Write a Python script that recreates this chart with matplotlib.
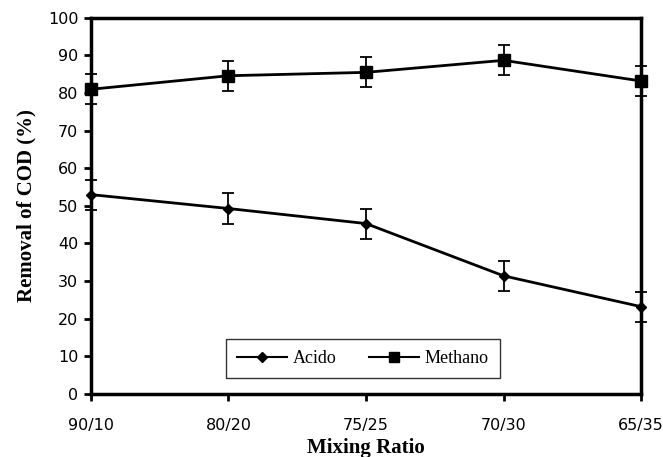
#!/usr/bin/env python3
"""COD removal vs mixing ratio for acido and methano reactors."""

import matplotlib
matplotlib.use('Agg')
import matplotlib.pyplot as plt
from matplotlib.lines import Line2D
import numpy as np

ratios = ['90/10', '80/20', '75/25', '70/30', '65/35']
acido = [53.0, 49.3, 45.3, 31.4, 23.2]
acido_err = [4.0, 4.0, 4.0, 4.0, 4.0]
methano = [81.0, 84.6, 85.5, 88.7, 83.2]
methano_err = [4.0, 4.0, 4.0, 4.0, 4.0]


def plot_cod_removal():
    fig = plt.figure(figsize=(6.63, 4.57), dpi=100)
    ax = fig.add_axes([0.137, 0.138, 0.83, 0.823])

    x = np.arange(len(ratios))

    ax.errorbar(x, acido, yerr=acido_err, color='black', lw=2, marker='D',
                ms=5, capsize=4, elinewidth=1.3, capthick=1.3,
                clip_on=False, zorder=3)
    ax.errorbar(x, methano, yerr=methano_err, color='black', lw=2, marker='s',
                ms=8, capsize=4, elinewidth=1.3, capthick=1.3,
                clip_on=False, zorder=3)

    ax.set_xlim(0, len(ratios) - 1)
    ax.set_ylim(0, 100)
    ax.set_xticks(x)
    ax.set_xticklabels(ratios)
    ax.set_yticks(np.arange(0, 101, 10))

    for s in ax.spines.values():
        s.set_linewidth(2.5)
    ax.tick_params(direction='out', length=5, width=2, labelsize=11.5, pad=4)
    ax.tick_params(axis='x', pad=12)
    for lbl in ax.get_xticklabels() + ax.get_yticklabels():
        lbl.set_family('DejaVu Sans')

    ax.set_xlabel('Mixing Ratio', family='Liberation Serif', fontweight='bold',
                  fontsize=15, labelpad=4)
    ax.set_ylabel('Removal of COD (%)', family='Liberation Serif',
                  fontweight='bold', fontsize=15, labelpad=8)

    handles = [Line2D([], [], color='black', lw=1.5, marker='D', ms=5),
               Line2D([], [], color='black', lw=1.5, marker='s', ms=7)]
    leg = ax.legend(handles, ['Acido', 'Methano'], loc='center',
                    bbox_to_anchor=(0.494, 0.094), ncol=2,
                    frameon=True, fancybox=False, edgecolor='black',
                    prop={'family': 'Liberation Serif', 'size': 13},
                    handlelength=2.8, handletextpad=0.3, columnspacing=1.8,
                    borderpad=0.6)
    leg.get_frame().set_linewidth(1)

    fig.savefig('out.png', dpi=100)


if __name__ == '__main__':
    plot_cod_removal()
